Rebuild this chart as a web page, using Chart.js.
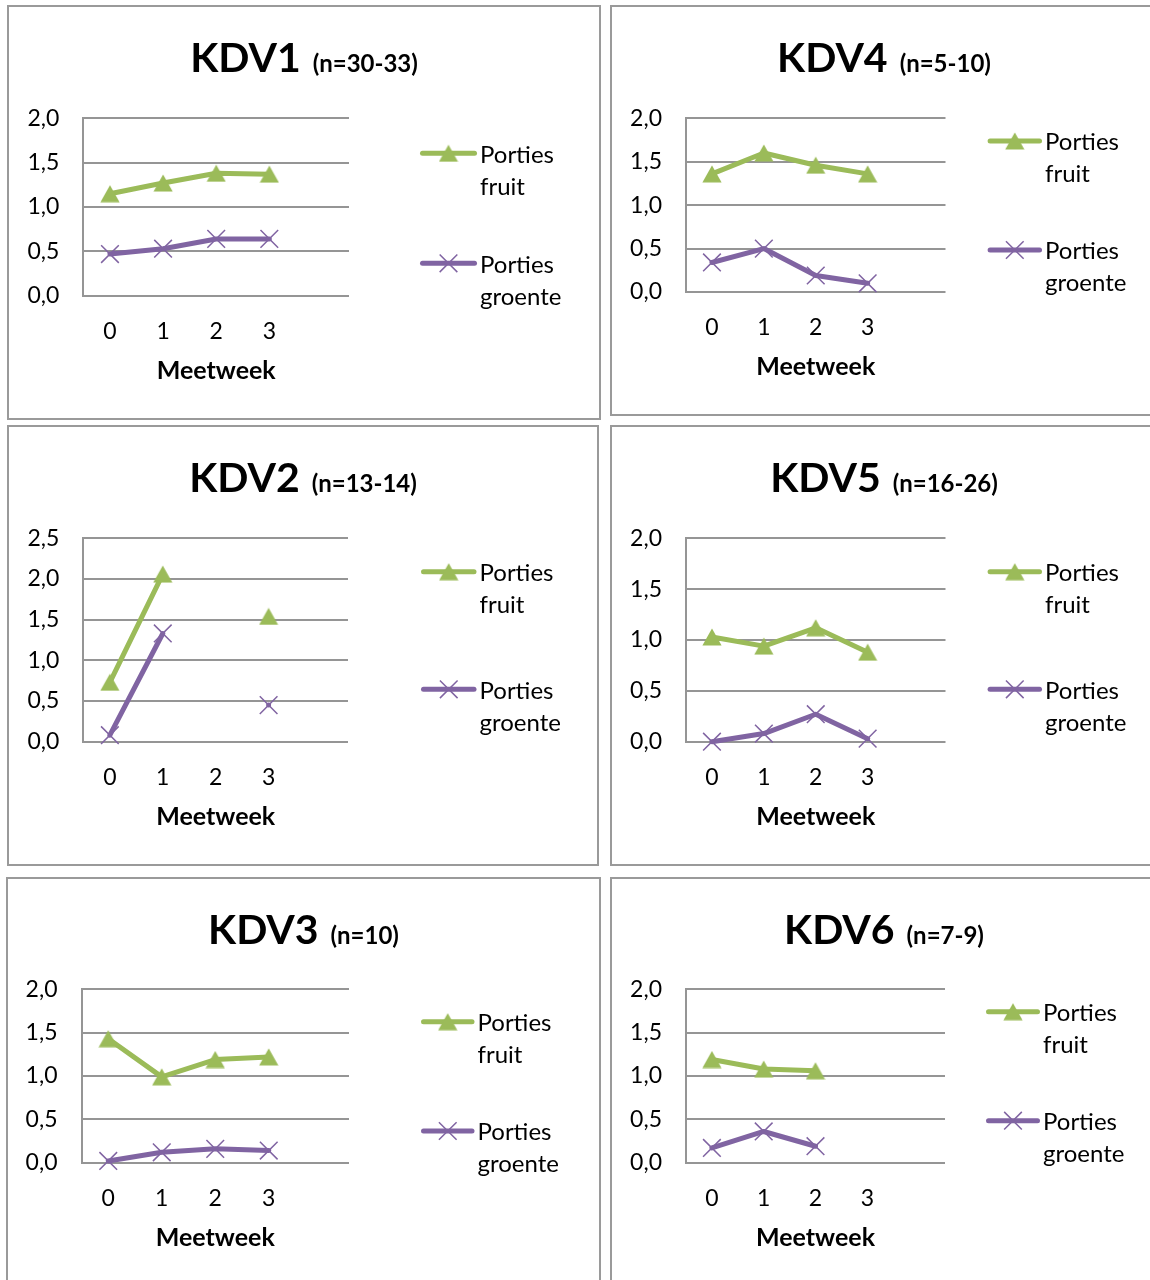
<!DOCTYPE html>
<html>
<head>
<meta charset="utf-8">
<script src="https://cdn.jsdelivr.net/npm/chart.js@4.4.1/dist/chart.umd.min.js"></script>
<style>
  html, body { margin: 0; padding: 0; background: #fff; width: 1150px; height: 1280px; overflow: hidden; }
  body { position: relative; }
  .panel { position: absolute; box-sizing: border-box; border: 2px solid #9a9a9a; pointer-events: none; }
  canvas.c { position: absolute; }
</style>
</head>
<body>
<script>
// Measurement weeks (fifth slot is an empty category, as in the original sheet)
const weeks = ['0', '1', '2', '3', ''];
const ticks20 = ['0,0', '0,5', '1,0', '1,5', '2,0'];
const ticks25 = ['0,0', '0,5', '1,0', '1,5', '2,0', '2,5'];
const seriesNames = [['Porties', 'fruit'], ['Porties', 'groente']];

// Servings per child care location
const kdv1Fruit   = [1.15, 1.27, 1.38, 1.37];
const kdv1Groente = [0.47, 0.53, 0.64, 0.64];
const kdv4Fruit   = [1.36, 1.60, 1.46, 1.36];
const kdv4Groente = [0.34, 0.50, 0.19, 0.10];
const kdv2Fruit   = [0.73, 2.06, null, 1.54];
const kdv2Groente = [0.08, 1.33, null, 0.45];
const kdv5Fruit   = [1.03, 0.94, 1.12, 0.88];
const kdv5Groente = [0.00, 0.08, 0.27, 0.03];
const kdv3Fruit   = [1.43, 0.99, 1.19, 1.22];
const kdv3Groente = [0.02, 0.12, 0.16, 0.14];
const kdv6Fruit   = [1.19, 1.08, 1.06, null];
const kdv6Groente = [0.17, 0.36, 0.19, null];

const GREEN = '#9BBB59';
const PURPLE = '#8064A2';
const GRID = '#959595';
const FONT = 'Lato';

// Triangle marker centred on its bounding box
function makeTriangle(color) {
  const c = document.createElement('canvas');
  c.width = 20; c.height = 18;
  const g = c.getContext('2d');
  g.fillStyle = color;
  g.beginPath();
  g.moveTo(10, 0.5);
  g.lineTo(19.6, 17.5);
  g.lineTo(0.4, 17.5);
  g.closePath();
  g.fill();
  return c;
}
const triangle = makeTriangle(GREEN);

// Panel layout in page pixels: outer box, plot area, legend line span and rows
const panels = [
  { name: 'KDV1', sub: '(n=30-33)', fruit: kdv1Fruit, groente: kdv1Groente, yMax: 2.0, yTicks: ticks20,
    box: [7, 5, 594, 415], plot: [83.4, 118.3, 349, 295.7], legend: [420, 477, 153.3, 263.3] },
  { name: 'KDV4', sub: '(n=5-10)', fruit: kdv4Fruit, groente: kdv4Groente, yMax: 2.0, yTicks: ticks20,
    box: [610, 5, 548, 411], plot: [686, 118.3, 945.5, 292], legend: [987.6, 1042, 141, 250] },
  { name: 'KDV2', sub: '(n=13-14)', fruit: kdv2Fruit, groente: kdv2Groente, yMax: 2.5, yTicks: ticks25,
    box: [7, 425, 592, 441], plot: [83.4, 538.3, 348, 741.7], legend: [421, 476.5, 571.7, 689.3] },
  { name: 'KDV5', sub: '(n=16-26)', fruit: kdv5Fruit, groente: kdv5Groente, yMax: 2.0, yTicks: ticks20,
    box: [610, 425, 548, 441], plot: [686, 538.3, 945.5, 741.7], legend: [987.6, 1042, 571.7, 689.3] },
  { name: 'KDV3', sub: '(n=10)', fruit: kdv3Fruit, groente: kdv3Groente, yMax: 2.0, yTicks: ticks20,
    box: [6, 877, 595, 420], plot: [81.5, 989.3, 349, 1162.7], legend: [421, 474.5, 1021.7, 1131] },
  { name: 'KDV6', sub: '(n=7-9)', fruit: kdv6Fruit, groente: kdv6Groente, yMax: 2.0, yTicks: ticks20,
    box: [610, 877, 548, 420], plot: [686, 989.3, 945, 1162.7], legend: [986, 1040, 1011.7, 1120.7] }
];

// Draws the two-size heading and the two-line legend at the right of the plot
const panelDecor = {
  id: 'panelDecor',
  afterDraw(chart, args, o) {
    const ctx = chart.ctx;
    ctx.save();
    ctx.fillStyle = '#000';
    ctx.textBaseline = 'alphabetic';
    ctx.textAlign = 'left';
    ctx.font = `bold 41px ${FONT}`;
    const w1 = ctx.measureText(o.title).width;
    ctx.font = `bold 24px ${FONT}`;
    const w2 = ctx.measureText(o.sub).width;
    const x0 = chart.width / 2 - (w1 + o.gap + w2) / 2;
    ctx.font = `bold 41px ${FONT}`;
    ctx.fillText(o.title, x0, o.titleY);
    ctx.font = `bold 24px ${FONT}`;
    ctx.fillText(o.sub, x0 + w1 + o.gap, o.titleY);

    chart.data.datasets.forEach((ds, i) => {
      const y = o.rows[i];
      ctx.strokeStyle = ds.borderColor;
      ctx.lineWidth = ds.borderWidth;
      ctx.lineCap = 'round';
      ctx.beginPath();
      ctx.moveTo(o.x0 + 2.5, y);
      ctx.lineTo(o.x1 - 2.5, y);
      ctx.stroke();
      const mx = (o.x0 + o.x1) / 2;
      if (ds.pointStyle === 'crossRot') {
        const r = ds.pointRadius * Math.SQRT1_2;
        ctx.lineWidth = ds.pointBorderWidth;
        ctx.lineCap = 'butt';
        ctx.beginPath();
        ctx.moveTo(mx - r, y - r); ctx.lineTo(mx + r, y + r);
        ctx.moveTo(mx - r, y + r); ctx.lineTo(mx + r, y - r);
        ctx.stroke();
      } else {
        ctx.drawImage(ds.pointStyle, mx - ds.pointStyle.width / 2, y - ds.pointStyle.height / 2);
      }
      ctx.fillStyle = '#000';
      ctx.font = `24px ${FONT}`;
      ctx.textBaseline = 'middle';
      ctx.fillText(o.labels[i][0], o.x1 + 3, y + 1.5);
      ctx.fillText(o.labels[i][1], o.x1 + 3, y + 33.5);
    });
    ctx.restore();
  }
};

const X_AXIS_H = 90;

panels.forEach(p => {
  const [bx, by, bw, bh] = p.box;
  const [pl, pt, pr, pb] = p.plot;

  const canvas = document.createElement('canvas');
  canvas.className = 'c';
  canvas.width = bw; canvas.height = bh;
  canvas.style.left = bx + 'px'; canvas.style.top = by + 'px';
  canvas.style.width = bw + 'px'; canvas.style.height = bh + 'px';
  document.body.appendChild(canvas);

  const frame = document.createElement('div');
  frame.className = 'panel';
  frame.style.left = bx + 'px'; frame.style.top = by + 'px';
  frame.style.width = bw + 'px'; frame.style.height = bh + 'px';
  document.body.appendChild(frame);

  const yWidth = pl - bx;
  const padTop = pt - by;
  const padRight = bw - (pr - bx);
  const padBottom = bh - (pb - by) - X_AXIS_H;

  new Chart(canvas, {
    type: 'line',
    data: {
      labels: weeks,
      datasets: [
        { label: seriesNames[0].join(' '), data: p.fruit, borderColor: GREEN, backgroundColor: GREEN,
          borderWidth: 5, pointStyle: triangle, pointRadius: 9, pointHoverRadius: 9,
          borderCapStyle: 'round', borderJoinStyle: 'round', spanGaps: false, clip: false, tension: 0 },
        { label: seriesNames[1].join(' '), data: p.groente, borderColor: PURPLE, backgroundColor: PURPLE,
          borderWidth: 5, pointStyle: 'crossRot', pointRadius: 12.5, pointHoverRadius: 12.5,
          pointBorderColor: PURPLE, pointBorderWidth: 1.5,
          borderCapStyle: 'round', borderJoinStyle: 'round', spanGaps: false, clip: false, tension: 0 }
      ]
    },
    options: {
      responsive: false,
      animation: false,
      devicePixelRatio: 1,
      layout: { padding: { left: 0, top: padTop, right: padRight, bottom: padBottom } },
      plugins: {
        legend: { display: false },
        tooltip: { enabled: false },
        title: { display: false },
        panelDecor: {
          title: p.name, sub: p.sub, gap: 12, titleY: 66.7,
          x0: p.legend[0] - bx, x1: p.legend[1] - bx,
          rows: [p.legend[2] - by, p.legend[3] - by],
          labels: seriesNames
        }
      },
      scales: {
        x: {
          type: 'category',
          offset: true,
          grid: { display: false, drawTicks: false },
          border: { display: false },
          ticks: { color: '#000', font: { family: FONT, size: 23 }, padding: 22, maxRotation: 0, autoSkip: false },
          title: { display: true, text: 'Meetweek', color: '#000',
                   font: { family: FONT, size: 25, weight: 'bold' }, padding: { top: 0, bottom: 0 } },
          afterFit(scale) { scale.height = X_AXIS_H; }
        },
        y: {
          min: 0,
          max: p.yMax,
          grid: { color: GRID, lineWidth: 2, drawTicks: false },
          border: { display: true, color: GRID, width: 2 },
          ticks: { stepSize: 0.5, color: '#000', font: { family: FONT, size: 23 }, padding: 24,
                   callback: (v, i) => p.yTicks[i] },
          afterFit(scale) { scale.width = yWidth; }
        }
      }
    },
    plugins: [panelDecor]
  });
});
</script>
</body>
</html>
